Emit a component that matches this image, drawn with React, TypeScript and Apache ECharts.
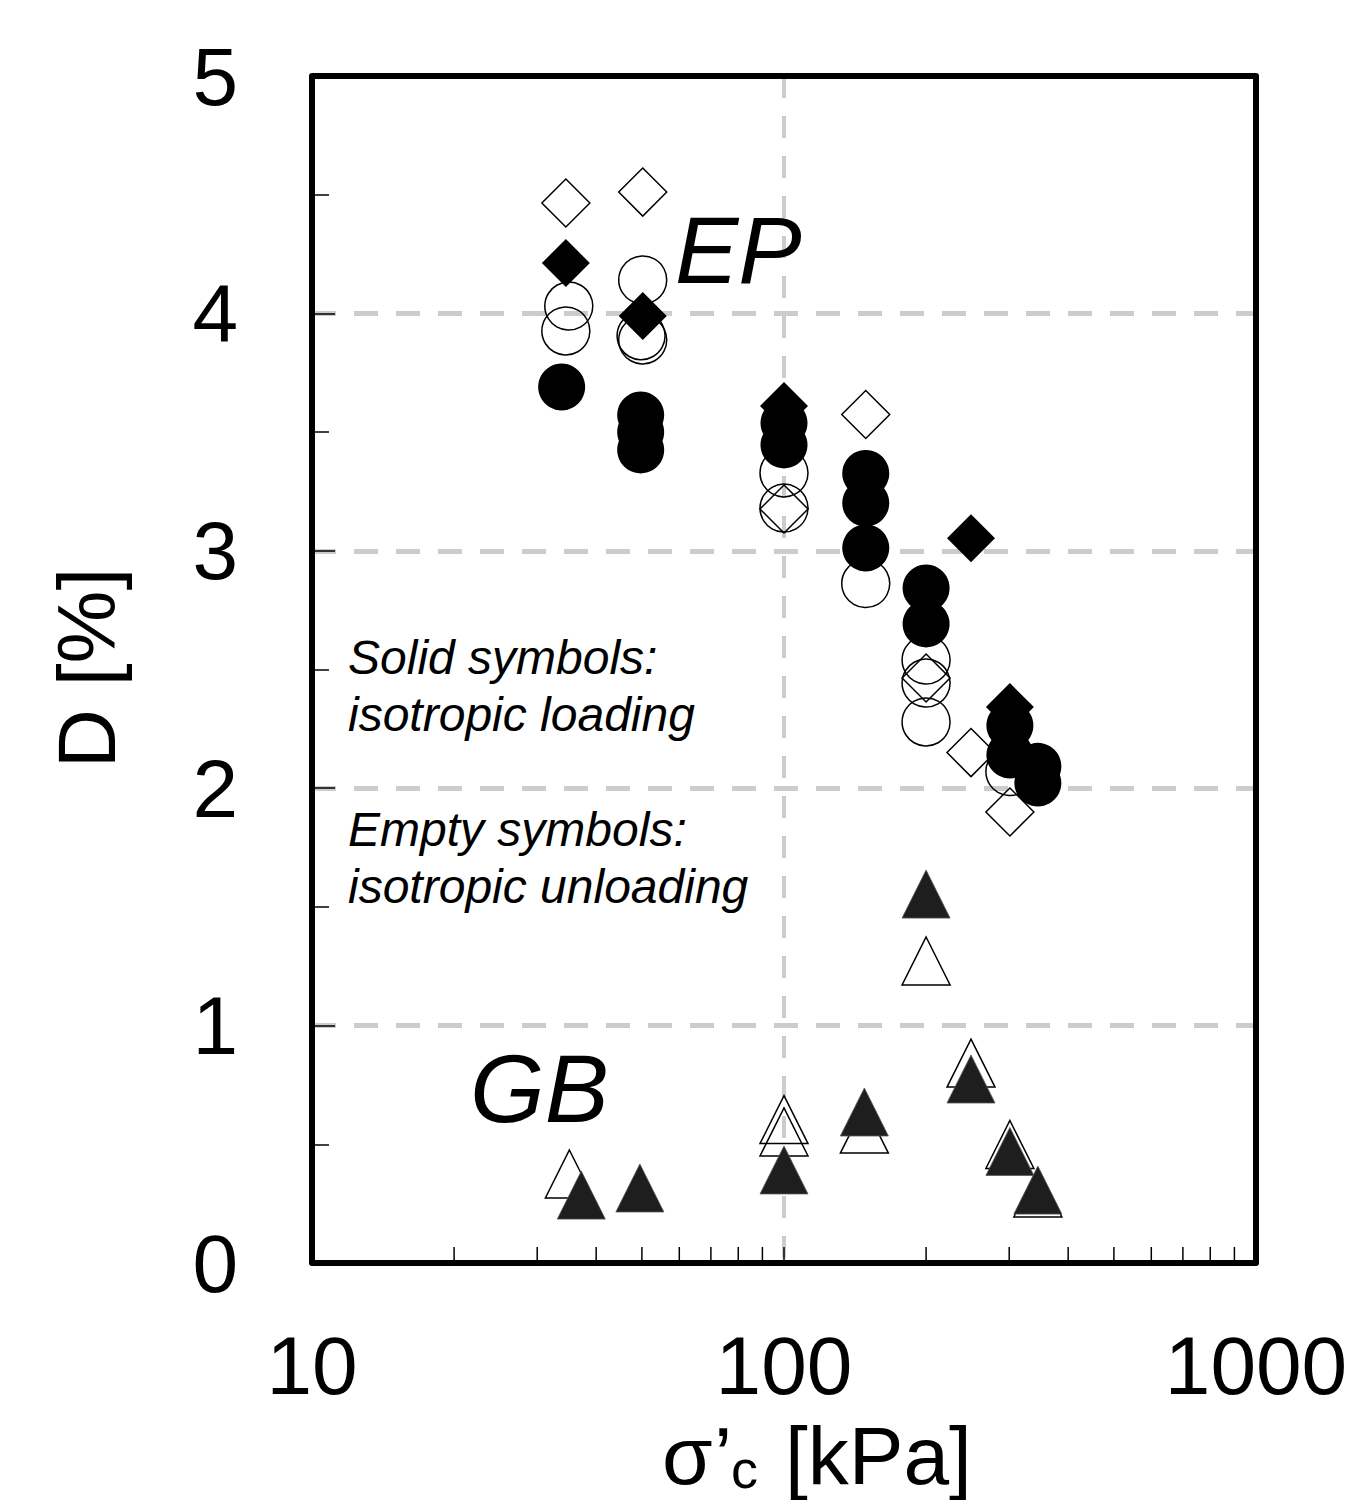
import React, { useEffect, useRef } from 'react';
import * as echarts from 'echarts';

// EP, isotropic loading (solid circles) [sigma'c kPa, D %]
const epLoadingCircles = [
  [33.8, 3.69], [49.7, 3.572], [49.7, 3.5], [49.7, 3.425],
  [100, 3.538], [100, 3.446],
  [149, 3.326], [149, 3.201], [149, 3.012],
  [200, 2.843], [200, 2.692],
  [301, 2.264], [301, 2.14],
  [345, 2.092], [345, 2.022],
];
// EP, isotropic unloading (empty circles)
const epUnloadingCircles = [
  [35.0, 4.031], [34.5, 3.926],
  [50.2, 4.141], [49.8, 3.906], [50.2, 3.888],
  [100, 3.328], [100, 3.18],
  [149, 2.862],
  [200, 2.54], [200, 2.443], [200, 2.279],
  [301, 2.07],
];
// EP, isotropic loading (solid diamonds)
const epLoadingDiamonds = [
  [34.5, 4.212], [50.2, 3.989], [100, 3.61], [249, 3.053], [301, 2.342],
];
// EP, isotropic unloading (empty diamonds)
const epUnloadingDiamonds = [
  [34.5, 4.465], [50.2, 4.511], [100, 3.176], [149, 3.574], [200, 2.464], [249, 2.15], [301, 1.9],
];
// GB, isotropic loading (solid triangles)
const gbLoadingTriangles = [
  [37.2, 0.286], [49.5, 0.316], [100, 0.392], [148, 0.636], [200, 1.554], [249, 0.775], [301, 0.47], [345, 0.307],
];
// GB, isotropic unloading (empty triangles)
const gbUnloadingTriangles = [
  [35.1, 0.375], [100, 0.604], [100, 0.552], [148, 0.564], [200, 1.272], [249, 0.842], [301, 0.499], [345, 0.295],
];

const xTickValues = [20, 30, 40, 50, 60, 70, 80, 90, 100, 200, 300, 400, 500, 600, 700, 800, 900];

const FONT = '"Liberation Sans", Arial, sans-serif';

export default function App() {
  const ref = useRef<HTMLDivElement>(null);
  useEffect(() => {
    document.body.style.margin = '0';
    const chart = echarts.init(ref.current!, null, { renderer: 'svg' });
    const gridL = 312, gridT = 76, gridR = 95, gridB = 237;
    const W = 1351, H = 1500;
    const open = { color: 'rgba(0,0,0,0)', borderColor: '#000', borderWidth: 1.5, opacity: 1 };
    const scatterBase = { type: 'scatter', silent: true, emphasis: { disabled: true } };
    chart.setOption({
      animation: false,
      backgroundColor: '#fff',
      grid: { left: gridL, top: gridT, right: gridR, bottom: gridB, containLabel: false, outerBoundsMode: 'none' },
      xAxis: {
        type: 'log', logBase: 10, min: 10, max: 1000,
        axisLine: { show: false },
        axisTick: { show: false },
        axisLabel: {
          fontSize: 82, color: '#000', margin: 61, fontFamily: FONT, showMaxLabel: true, showMinLabel: true,
          formatter: (v: number) => String(Math.round(v)),
        },
        splitLine: { show: true, lineStyle: { color: '#cccccc', width: 4, type: [22, 18] } },
      },
      yAxis: {
        type: 'value', min: 0, max: 5, interval: 1,
        axisLine: { show: false },
        axisTick: { show: true, inside: true, length: 23, lineStyle: { color: '#000', width: 1.5 } },
        minorTick: { show: true, splitNumber: 2, length: 17, lineStyle: { color: '#000', width: 1.5 } },
        axisLabel: { fontSize: 82, color: '#000', margin: 74, fontFamily: FONT },
        splitLine: { show: true, lineStyle: { color: '#cccccc', width: 5, type: [24, 18] } },
      },
      series: [
        { ...scatterBase, name: 'EP unloading circles', data: epUnloadingCircles, symbol: 'circle', symbolSize: 48, itemStyle: open },
        { ...scatterBase, name: 'EP unloading diamonds', data: epUnloadingDiamonds, symbol: 'diamond', symbolSize: 48, itemStyle: open },
        { ...scatterBase, name: 'GB unloading triangles', data: gbUnloadingTriangles, symbol: 'triangle', symbolSize: 48, itemStyle: open },
        { ...scatterBase, name: 'EP loading circles', data: epLoadingCircles, symbol: 'circle', symbolSize: 47, itemStyle: { color: '#000', opacity: 1 } },
        { ...scatterBase, name: 'EP loading diamonds', data: epLoadingDiamonds, symbol: 'diamond', symbolSize: 48, itemStyle: { color: '#000', opacity: 1 } },
        { ...scatterBase, name: 'GB loading triangles', data: gbLoadingTriangles, symbol: 'triangle', symbolSize: 48, itemStyle: { color: '#1e1e1e', borderColor: '#555', borderWidth: 0.8, opacity: 1 } },
        {
          type: 'custom', silent: true, z: 5,
          data: xTickValues.map((v) => [v, 0]),
          renderItem: (params: any, api: any) => {
            const p = api.coord([api.value(0), 0]);
            return {
              type: 'line',
              shape: { x1: p[0], y1: p[1], x2: p[0], y2: p[1] - 16 },
              style: { stroke: '#000', lineWidth: 1.5 },
            };
          },
        },
      ],
      graphic: [
        {
          type: 'rect', z: 100, silent: true,
          shape: { x: gridL, y: gridT, width: W - gridL - gridR, height: H - gridT - gridB },
          style: { fill: 'none', stroke: '#000', lineWidth: 6, lineJoin: 'round' },
        },
        { type: 'text', z: 100, x: 675, y: 250, style: { text: 'EP', font: `italic 95px ${FONT}`, fill: '#000', textAlign: 'left', textVerticalAlign: 'middle' } },
        { type: 'text', z: 100, x: 470, y: 1088, style: { text: 'GB', font: `italic 96px ${FONT}`, fill: '#000', textAlign: 'left', textVerticalAlign: 'middle' } },
        { type: 'text', z: 100, x: 348, y: 657, style: { text: 'Solid symbols:', font: `italic 48px ${FONT}`, fill: '#000', textAlign: 'left', textVerticalAlign: 'middle' } },
        { type: 'text', z: 100, x: 348, y: 714, style: { text: 'isotropic loading', font: `italic 48px ${FONT}`, fill: '#000', textAlign: 'left', textVerticalAlign: 'middle' } },
        { type: 'text', z: 100, x: 348, y: 829, style: { text: 'Empty symbols:', font: `italic 48px ${FONT}`, fill: '#000', textAlign: 'left', textVerticalAlign: 'middle' } },
        { type: 'text', z: 100, x: 348, y: 886, style: { text: 'isotropic unloading', font: `italic 48px ${FONT}`, fill: '#000', textAlign: 'left', textVerticalAlign: 'middle' } },
        { type: 'text', z: 100, x: 86, y: 668, rotation: Math.PI / 2, style: { text: 'D [%]', font: `82px ${FONT}`, fill: '#000', textAlign: 'center', textVerticalAlign: 'middle' } },
        { type: 'text', z: 100, x: 662, y: 1455, style: { text: 'σ', font: `82px ${FONT}`, fill: '#000', textAlign: 'left', textVerticalAlign: 'middle' } },
        { type: 'text', z: 100, x: 714, y: 1455, style: { text: '’', font: `82px ${FONT}`, fill: '#000', textAlign: 'left', textVerticalAlign: 'middle' } },
        { type: 'text', z: 100, x: 731, y: 1469, style: { text: 'c', font: `54px ${FONT}`, fill: '#000', textAlign: 'left', textVerticalAlign: 'middle' } },
        { type: 'text', z: 100, x: 785, y: 1455, style: { text: '[kPa]', font: `82px ${FONT}`, fill: '#000', textAlign: 'left', textVerticalAlign: 'middle' } },
      ],
    });
    return () => chart.dispose();
  }, []);
  return <div ref={ref} style={{ width: 1351, height: 1500 }} />;
}
